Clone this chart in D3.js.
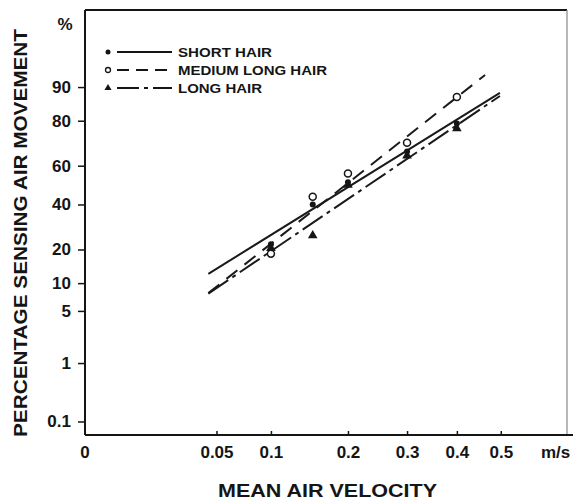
<!DOCTYPE html>
<html><head><meta charset="utf-8">
<script src="https://cdn.jsdelivr.net/npm/d3@7"></script>
<style>
html,body{margin:0;padding:0;background:#fff;}
svg{display:block;font-family:"Liberation Sans",Arial,Helvetica,sans-serif;}
</style></head><body>
<script>
// ---- data ----
const velocities = [0.1, 0.15, 0.2, 0.3, 0.4];           // m/s
const shortHair  = [22, 40, 51.5, 67, 79];                 // %
const mediumHair = [18.5, 44, 56, 71, 87.5];
const longHair   = [20.5, 25.5, 50, 65, 77];
// fitted lines: [velocity, percent] endpoints
const shortLine  = [[0.044, 12.3], [0.498, 88.6]];
const mediumLine = [[0.044, 7.9],  [0.463, 92.5]];
const longLine   = [[0.044, 7.8],  [0.498, 87.8]];
const xTicks = [0.05, 0.1, 0.2, 0.3, 0.4, 0.5];
const xTickLabels = ["0.05", "0.1", "0.2", "0.3", "0.4", "0.5"];
const yTicks = [0.1, 1, 5, 10, 20, 40, 60, 80, 90];
const yTickLabels = ["0.1", "1", "5", "10", "20", "40", "60", "80", "90"];
const legendLabels = ["SHORT HAIR", "MEDIUM LONG HAIR", "LONG HAIR"];

// inverse normal CDF (Acklam)
function probit(p){
  const a=[-3.969683028665376e+01,2.209460984245205e+02,-2.759285104469687e+02,1.383577518672690e+02,-3.066479806614716e+01,2.506628277459239e+00];
  const b=[-5.447609879822406e+01,1.615858368580409e+02,-1.556989798598866e+02,6.680131188771972e+01,-1.328068155288572e+01];
  const c=[-7.784894002430293e-03,-3.223964580411365e-01,-2.400758277161838e+00,-2.549671010115819e+00,4.374664141464968e+00,2.938163982698783e+00];
  const d=[7.784695709041462e-03,3.224671290700398e-01,2.445134137142996e+00,3.754408661907416e+00];
  const pl=0.02425, ph=1-pl; let q,r;
  if(p<pl){q=Math.sqrt(-2*Math.log(p));return (((((c[0]*q+c[1])*q+c[2])*q+c[3])*q+c[4])*q+c[5])/((((d[0]*q+d[1])*q+d[2])*q+d[3])*q+1);}
  if(p>ph){q=Math.sqrt(-2*Math.log(1-p));return -(((((c[0]*q+c[1])*q+c[2])*q+c[3])*q+c[4])*q+c[5])/((((d[0]*q+d[1])*q+d[2])*q+d[3])*q+1);}
  q=p-0.5;r=q*q;
  return (((((a[0]*r+a[1])*r+a[2])*r+a[3])*r+a[4])*r+a[5])*q/(((((b[0]*r+b[1])*r+b[2])*r+b[3])*r+b[4])*r+1);
}

const W=573,H=504;
const L=85,R=567,T=10,B=435;
const svg=d3.select("body").append("svg").attr("width",W).attr("height",H);

const x=d3.scaleSqrt().domain([0,0.672]).range([L,R]);
const yz=d3.scaleLinear().domain([-3.267,2.289]).range([B,T]);
const y=p=>yz(probit(p/100));

const ink="#151515";
// frame
svg.append("line").attr("x1",L).attr("x2",R).attr("y1",T).attr("y2",T).attr("stroke",ink).attr("stroke-width",2);
svg.append("line").attr("x1",R).attr("x2",R).attr("y1",T).attr("y2",B).attr("stroke","#888").attr("stroke-width",1.2);

// y axis
const yAxis=svg.append("g").attr("transform",`translate(${L},0)`)
  .call(d3.axisLeft(yz).tickValues(yTicks.map(p=>probit(p/100))).tickFormat((d,i)=>yTickLabels[i]).tickSize(7).tickPadding(7));
yAxis.select(".domain").attr("stroke",ink).attr("stroke-width",2).attr("d",`M0,${T}V${B}`);
yAxis.selectAll(".tick line").attr("stroke",ink).attr("stroke-width",1.5);
yAxis.selectAll("text").attr("font-size",17).attr("font-weight","bold").attr("fill",ink).attr("font-family","'Liberation Sans',Arial,sans-serif");

// x axis
const xAxis=svg.append("g").attr("transform",`translate(0,${B})`)
  .call(d3.axisBottom(x).tickValues(xTicks).tickFormat((d,i)=>xTickLabels[i]).tickSizeInner(-4).tickSizeOuter(0).tickPadding(23));
xAxis.select(".domain").attr("stroke",ink).attr("stroke-width",2).attr("d",`M${L},0H${W}`);
xAxis.selectAll(".tick line").attr("stroke",ink).attr("stroke-width",1.5);
xAxis.selectAll("text").attr("font-size",17).attr("font-weight","bold").attr("fill",ink).attr("font-family","'Liberation Sans',Arial,sans-serif").attr("dy","0");
svg.append("text").attr("x",x(0)).attr("y",458).attr("text-anchor","middle").attr("font-size",17).attr("font-weight","bold").attr("fill",ink).text("0");
svg.append("text").attr("x",541).attr("y",458).attr("font-size",17).attr("font-weight","bold").attr("fill",ink).text("m/s");

// titles
svg.append("text").attr("x",65).attr("y",30).attr("text-anchor","middle").attr("font-size",17).attr("font-weight","bold").attr("fill",ink).text("%");
svg.append("text").attr("x",218).attr("y",497).attr("font-size",19).attr("font-weight","bold").attr("fill",ink)
  .attr("textLength",219).attr("lengthAdjust","spacingAndGlyphs").text("MEAN AIR VELOCITY");
svg.append("text").attr("transform","translate(27,437) rotate(-90)").attr("font-size",19).attr("font-weight","bold").attr("fill",ink)
  .attr("textLength",408).attr("lengthAdjust","spacingAndGlyphs").text("PERCENTAGE SENSING AIR MOVEMENT");

// fitted lines
const line=d3.line().x(d=>x(d[0])).y(d=>y(d[1]));
const styles=[
  {data:shortLine, dash:null},
  {data:mediumLine, dash:"14,9"},
  {data:longLine, dash:"24,5,4,5"}
];
styles.forEach(s=>{
  svg.append("path").attr("d",line(s.data)).attr("fill","none").attr("stroke","#1a1a1a").attr("stroke-width",2)
    .attr("stroke-dasharray",s.dash);
});

// points
const tri=d3.symbol().type(d3.symbolTriangle).size(40);
svg.selectAll(".lp").data(velocities).join("path").attr("class","lp")
  .attr("transform",(d,i)=>`translate(${x(d)},${y(longHair[i])})`).attr("d",tri()).attr("fill",ink);
svg.selectAll(".sp").data(velocities).join("circle").attr("class","sp")
  .attr("cx",d=>x(d)).attr("cy",(d,i)=>y(shortHair[i])).attr("r",3).attr("fill",ink);
svg.selectAll(".mp").data(velocities).join("circle").attr("class","mp")
  .attr("cx",d=>x(d)).attr("cy",(d,i)=>y(mediumHair[i])).attr("r",3.5).attr("fill","#fff").attr("stroke",ink).attr("stroke-width",1.5);

// legend
const lg=svg.append("g");
const rows=[57,75,93];
const legLens=[94,149,84];
rows.forEach((by,i)=>{
  const cy=by-5;
  if(i===0) lg.append("circle").attr("cx",108).attr("cy",cy).attr("r",2.5).attr("fill",ink);
  if(i===1) lg.append("circle").attr("cx",108).attr("cy",cy).attr("r",2.5).attr("fill","#fff").attr("stroke",ink).attr("stroke-width",1.3);
  if(i===2) lg.append("path").attr("transform",`translate(108,${cy})`).attr("d",d3.symbol().type(d3.symbolTriangle).size(22)()).attr("fill",ink);
  lg.append("line").attr("x1",117).attr("x2",172).attr("y1",cy).attr("y2",cy).attr("stroke",ink).attr("stroke-width",2)
    .attr("stroke-dasharray",[null,"12,7","22,5,4,5"][i]);
  lg.append("text").attr("x",178).attr("y",by).attr("font-size",13.5).attr("font-weight","bold").attr("fill",ink)
    .attr("textLength",legLens[i]).attr("lengthAdjust","spacingAndGlyphs").text(legendLabels[i]);
});
</script>
</body></html>
